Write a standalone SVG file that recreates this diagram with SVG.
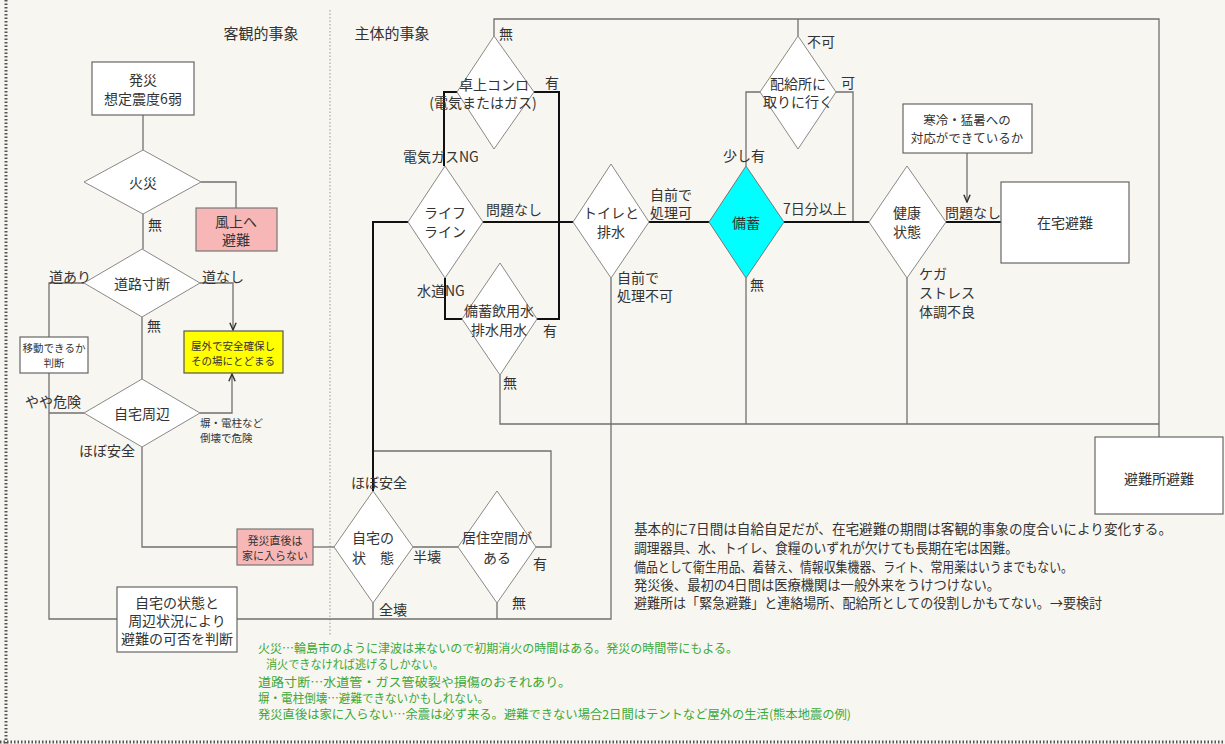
<svg xmlns="http://www.w3.org/2000/svg" width="1225" height="744" viewBox="0 0 1225 744">
<defs>
<marker id="arr" viewBox="0 0 10 10" refX="9" refY="5" markerWidth="9" markerHeight="9" markerUnits="userSpaceOnUse" orient="auto"><path d="M1,1.5 L9,5 L1,8.5" fill="none" stroke="#333" stroke-width="1.6"/></marker>
</defs>
<style>
text{font-family:"Noto Sans CJK JP","Noto Sans",sans-serif;fill:#333;font-size:14px}
.c{text-anchor:middle;dominant-baseline:central}
.l{dominant-baseline:central}
.s{font-size:10.5px}
.h{font-size:15px}
.n{font-size:13.5px}
.g{font-size:12px;fill:#3aa83a}
.box{fill:#fff;stroke:#666;stroke-width:1.2}
.pink{fill:#f7b7b7;stroke:#777;stroke-width:1.2}
.dia{fill:#fff;stroke:#888;stroke-width:1}
.w{fill:none;stroke:#707070;stroke-width:1.3}
.k{fill:none;stroke:#111;stroke-width:2}
</style>
<rect width="1225" height="744" fill="#f8f6f0"/>
<line x1="6" y1="0" x2="6" y2="744" stroke="#555" stroke-width="3" stroke-dasharray="1.5 2"/>
<line x1="0" y1="742" x2="1225" y2="742" stroke="#555" stroke-width="3" stroke-dasharray="1.5 2"/>
<line x1="330" y1="10" x2="330" y2="635" stroke="#999" stroke-width="1" stroke-dasharray="1.5 2"/>
<text class="c h" x="261" y="32">客観的事象</text>
<text class="c h" x="392" y="32">主体的事象</text>

<g id="connectors">
<path class="w" d="M143,115 V150"/>
<path class="w" d="M143,214 V249"/>
<path class="w" d="M201,182 H236 V208"/>
<path class="w" d="M142,317 V379"/>
<path class="w" d="M200,283 H233 V330" marker-end="url(#arr)"/>
<path class="w" d="M200,413 H232 V374" marker-end="url(#arr)"/>
<path class="w" d="M84,283 H49 V337"/>
<path class="w" d="M49,373 V619 H117"/>
<path class="w" d="M84,413 H49"/>
<path class="w" d="M142,447 V547 H237"/>
<path class="w" d="M313,547 H334"/>
<path class="w" d="M237,619 H611 V278"/>
<path class="w" d="M373,603 V619"/>
<path class="w" d="M497,603 V619"/>
<path class="w" d="M373,451 H551 V547 H536"/>
<path class="w" d="M413,547 H458"/>
<path class="w" d="M494,36 V19 H1159 V437"/>
<path class="w" d="M798,36 V19"/>
<path class="w" d="M500,375 V424 H1159"/>
<path class="w" d="M746,278 V424"/>
<path class="w" d="M907,278 V424"/>
<path class="w" d="M760,92 H746 V166"/>
<path class="w" d="M836,92 H853 V222"/>
<path class="w" d="M967,153 V202" marker-end="url(#arr)"/>
<path class="k" d="M457,92 H444 V166"/>
<path class="k" d="M534,92 H559 V319 H537"/>
<path class="k" d="M445,278 V319 H462"/>
<path class="k" d="M408,222 H373 V491"/>
<path class="k" d="M483,222 H573"/>
<path class="k" d="M649,222 H709"/>
<path class="k" d="M784,222 H869"/>
<path class="k" d="M946,222 H1001"/>
</g>

<g id="labels">
<text class="l" x="148" y="224">無</text>
<text class="l" x="49" y="276">道あり</text>
<text class="l" x="202" y="276">道なし</text>
<text class="l" x="147" y="325">無</text>
<text class="l" x="25" y="401">やや危険</text>
<text class="l s" x="200" y="422">塀・電柱など</text>
<text class="l s" x="200" y="437">倒壊で危険</text>
<text class="l" x="79" y="450">ほぼ安全</text>
<text class="l" x="499" y="33">無</text>
<text class="l" x="545" y="82">有</text>
<text class="l" x="403" y="156">電気ガスNG</text>
<text class="l" x="486" y="209">問題なし</text>
<text class="l" x="417" y="290">水道NG</text>
<text class="l" x="543" y="330">有</text>
<text class="l" x="503" y="382">無</text>
<text class="l" x="650" y="194">自前で</text>
<text class="l" x="650" y="212">処理可</text>
<text class="l" x="617" y="277">自前で</text>
<text class="l" x="617" y="295">処理不可</text>
<text class="l" x="723" y="155">少し有</text>
<text class="l" x="807" y="41">不可</text>
<text class="l" x="841" y="82">可</text>
<text class="l" x="783" y="208">7日分以上</text>
<text class="l" x="750" y="284">無</text>
<text class="l" x="945" y="212">問題なし</text>
<text class="l" x="919" y="273">ケガ</text>
<text class="l" x="919" y="292">ストレス</text>
<text class="l" x="919" y="311">体調不良</text>
<text class="l" x="351" y="482">ほぼ安全</text>
<text class="l" x="413" y="556">半壊</text>
<text class="l" x="533" y="563">有</text>
<text class="l" x="512" y="602">無</text>
<text class="l" x="379" y="609">全壊</text>
</g>

<g id="n-hassai"><rect class="box" x="92" y="62" width="102" height="53"/><text class="c" x="143" y="79">発災</text><text class="c" x="143" y="98">想定震度6弱</text></g>
<g id="n-kasai"><polygon class="dia" points="143,150 201,182 143,214 84,182"/><text class="c" x="143" y="182">火災</text></g>
<g id="n-fuujou"><rect class="pink" x="196" y="208" width="81" height="43"/><text class="c" x="236" y="221">風上へ</text><text class="c" x="236" y="239">避難</text></g>
<g id="n-douro"><polygon class="dia" points="142,249 200,283 142,317 84,283"/><text class="c" x="142" y="283">道路寸断</text></g>
<g id="n-okugai"><rect x="184" y="331" width="99" height="42" fill="#ffff00" stroke="#555" stroke-width="1.2"/><text class="c s" x="233" y="345">屋外で安全確保し</text><text class="c s" x="233" y="360">その場にとどまる</text></g>
<g id="n-idou"><rect class="box" x="20" y="337" width="68" height="36"/><text class="c s" x="54" y="347">移動できるか</text><text class="c s" x="54" y="362">判断</text></g>
<g id="n-shuhen"><polygon class="dia" points="142,379 200,413 142,447 84,413"/><text class="c" x="142" y="413">自宅周辺</text></g>
<g id="n-chokugo"><rect class="pink" x="237" y="529" width="76" height="36"/><text class="c" style="font-size:11px" x="275" y="540">発災直後は</text><text class="c" style="font-size:11px" x="275" y="555">家に入らない</text></g>
<g id="n-handan"><rect class="box" x="117" y="587" width="120" height="65"/><text class="c" x="177" y="602">自宅の状態と</text><text class="c" x="177" y="620">周辺状況により</text><text class="c" x="177" y="638">避難の可否を判断</text></g>
<g id="n-jotai"><polygon class="dia" points="373,491 413,547 373,603 334,547"/><text class="c" x="373" y="537">自宅の</text><text class="c" x="373" y="557">状　態</text></g>
<g id="n-kyojuu"><polygon class="dia" points="497,491 536,547 497,603 458,547"/><text class="c" x="497" y="537">居住空間が</text><text class="c" x="497" y="557">ある</text></g>
<g id="n-konro"><polygon class="dia" points="494,36 534,92 494,149 457,92"/><text class="c" x="494" y="84">卓上コンロ</text><text class="c" x="483" y="102">(電気またはガス)</text></g>
<g id="n-lifeline"><polygon class="dia" points="445,166 483,222 445,278 408,222"/><text class="c" x="445" y="212">ライフ</text><text class="c" x="445" y="231">ライン</text></g>
<g id="n-water"><polygon class="dia" points="500,263 537,319 500,375 462,319"/><text class="c" x="499" y="310">備蓄飲用水</text><text class="c" x="499" y="329">排水用水</text></g>
<g id="n-toilet"><polygon class="dia" points="611,164 649,222 611,278 573,222"/><text class="c" x="611" y="212">トイレと</text><text class="c" x="611" y="231">排水</text></g>
<g id="n-bichiku"><polygon points="746,166 784,222 746,278 709,222" fill="#00ffff" stroke="#777" stroke-width="1"/><text class="c" x="746" y="222">備蓄</text></g>
<g id="n-haikyu"><polygon class="dia" points="798,36 836,92 798,149 760,92"/><text class="c" x="798" y="83">配給所に</text><text class="c" x="798" y="101">取りに行く</text></g>
<g id="n-kenkou"><polygon class="dia" points="907,166 946,222 907,278 869,222"/><text class="c" x="907" y="212">健康</text><text class="c" x="907" y="231">状態</text></g>
<g id="n-kanrei"><rect class="box" x="903" y="104" width="129" height="49"/><text class="c" style="font-size:12.5px" x="967" y="119">寒冷・猛暑への</text><text class="c" style="font-size:12.5px" x="967" y="137">対応ができているか</text></g>
<g id="n-zaitaku"><rect class="box" x="1001" y="182" width="128" height="81"/><text class="c" x="1065" y="222">在宅避難</text></g>
<g id="n-hinanjo"><rect class="box" x="1095" y="437" width="128" height="77"/><text class="c" x="1159" y="478">避難所避難</text></g>

<g id="notes">
<text class="l n" x="634" y="528" textLength="538" lengthAdjust="spacingAndGlyphs">基本的に7日間は自給自足だが、在宅避難の期間は客観的事象の度合いにより変化する。</text>
<text class="l n" x="634" y="547" textLength="384" lengthAdjust="spacingAndGlyphs">調理器具、水、トイレ、食糧のいずれが欠けても長期在宅は困難。</text>
<text class="l n" x="634" y="566" textLength="439" lengthAdjust="spacingAndGlyphs">備品として衛生用品、着替え、情報収集機器、ライト、常用薬はいうまでもない。</text>
<text class="l n" x="634" y="584" textLength="366" lengthAdjust="spacingAndGlyphs">発災後、最初の4日間は医療機関は一般外来をうけつけない。</text>
<text class="l n" x="634" y="602" textLength="468" lengthAdjust="spacingAndGlyphs">避難所は「緊急避難」と連絡場所、配給所としての役割しかもてない。→要検討</text>
</g>
<g id="green-notes">
<text class="l g" x="258" y="647" textLength="480" lengthAdjust="spacingAndGlyphs">火災…輪島市のように津波は来ないので初期消火の時間はある。発災の時間帯にもよる。</text>
<text class="l g" x="266" y="663" textLength="178" lengthAdjust="spacingAndGlyphs">消火できなければ逃げるしかない。</text>
<text class="l g" x="258" y="681" textLength="313" lengthAdjust="spacingAndGlyphs">道路寸断…水道管・ガス管破裂や損傷のおそれあり。</text>
<text class="l g" x="258" y="697" textLength="231" lengthAdjust="spacingAndGlyphs">塀・電柱倒壊…避難できないかもしれない。</text>
<text class="l g" x="258" y="713" textLength="593" lengthAdjust="spacingAndGlyphs">発災直後は家に入らない…余震は必ず来る。避難できない場合2日間はテントなど屋外の生活(熊本地震の例)</text>
</g>
</svg>
